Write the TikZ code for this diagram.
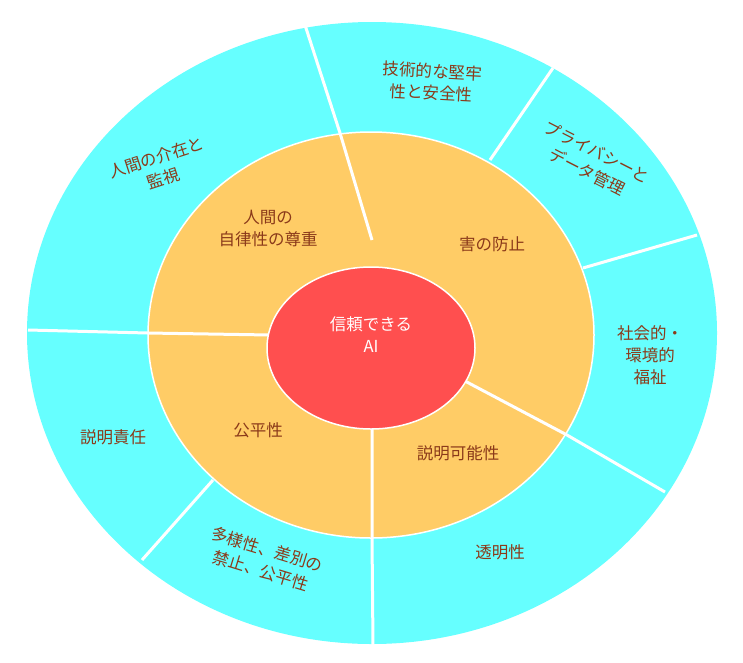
\documentclass[tikz,border=0pt]{standalone}
\usetikzlibrary{shapes.geometric}
\usepackage{fontspec}
\setmainfont{Noto Sans CJK JP}
\definecolor{outerc}{HTML}{66FFFF}
\definecolor{midc}{HTML}{FFCC66}
\definecolor{ctrc}{HTML}{FF4F4F}
\definecolor{txtc}{HTML}{8B3A1A}
\begin{document}
\begin{tikzpicture}[x=1pt,y=-1pt,
  sep/.style={draw=white,line width=3pt},
  lab/.style={text=txtc,font=\fontsize{16.5}{22}\selectfont,align=center,inner sep=1pt}]
\useasboundingbox (0,0) rectangle (743,662);
\fill[outerc] (372,333) ellipse [x radius=345,y radius=311];
\fill[midc] (371,335) ellipse [x radius=223,y radius=203];
\draw[white,line width=1.5pt] (371,335) ellipse [x radius=223,y radius=203];
\coordinate (c1) at (372,240); \coordinate (m1) at (340,133); \coordinate (o1) at (305,25);
\coordinate (c2) at (270,335); \coordinate (m2) at (148,333); \coordinate (o2) at (28,330);
\coordinate (c3) at (372,428); \coordinate (m3) at (372,538); \coordinate (o3) at (373,645);
\coordinate (c4) at (463,380); \coordinate (m4) at (567,435); \coordinate (o4) at (665,492);
\coordinate (a5) at (213,480); \coordinate (b5) at (142,560);
\coordinate (a6) at (583,268); \coordinate (b6) at (697,235);
\coordinate (a7) at (490,160); \coordinate (b7) at (553,68);
\draw[sep] (c1)--(m1)--(o1); \draw[sep] (c2)--(m2)--(o2);
\draw[sep] (c3)--(m3)--(o3); \draw[sep] (c4)--(m4)--(o4);
\draw[sep] (a5)--(b5); \draw[sep] (a6)--(b6); \draw[sep] (a7)--(b7);
\node[fill=ctrc,draw=white,line width=1.5pt,ellipse,inner sep=0pt,minimum width=208pt,minimum height=162pt] (ctr) at (371,348) {};
\node[text=white,font=\fontsize{16.5}{22}\selectfont,align=center] (ct) at (371,335) {信頼できる\\AI};
\node[lab] (i1) at (268,228) {人間の\\自律性の尊重};
\node[lab] (i2) at (492,244) {害の防止};
\node[lab] (i3) at (258,430) {公平性};
\node[lab] (i4) at (458,453) {説明可能性};
\node[lab,rotate=18] (o1t) at (160,168) {人間の介在と\\監視};
\node[lab,rotate=-3] (o2t) at (432,82) {技術的な堅牢\\性と安全性};
\node[lab,rotate=-27] (o3t) at (592,162) {プライバシーと\\データ管理};
\node[lab] (o4t) at (650,355) {社会的・\\環境的\\福祉};
\node[lab] (o5t) at (500,552) {透明性};
\node[lab,rotate=-17] (o6t) at (264,560) {多様性、差別の\\禁止、公平性};
\node[lab] (o7t) at (113,437) {説明責任};
\end{tikzpicture}
\end{document}
